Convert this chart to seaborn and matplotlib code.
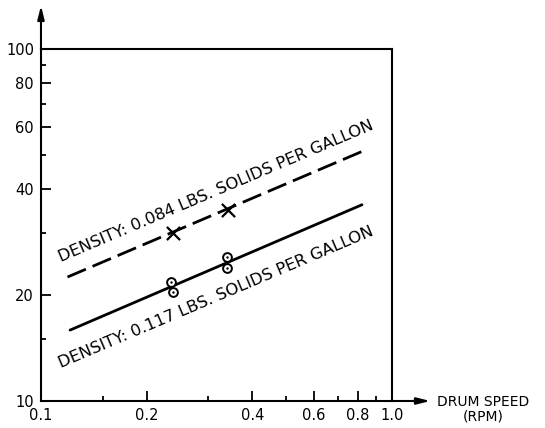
import numpy as np
import pandas as pd
import seaborn as sns
import matplotlib.pyplot as plt

# fitted lines (end points)
line_speed_084 = [0.119, 0.838]
line_val_084 = [22.5, 51.6]
line_speed_117 = [0.121, 0.821]
line_val_117 = [15.9, 36.1]

# measured points
x_speed = [0.238, 0.341]
x_val = [30.0, 34.9]
o_speed = [0.235, 0.238, 0.339, 0.339]
o_val = [21.8, 20.4, 25.6, 23.9]

xticks = [0.1, 0.2, 0.4, 0.6, 0.8, 1.0]
xticklabels = ['0.1', '0.2', '0.4', '0.6', '0.8', '1.0']
xminor = [0.15, 0.3, 0.5, 0.7, 0.9]
yticks = [10, 20, 40, 60, 80, 100]
yticklabels = ['10', '20', '40', '60', '80', '100']
yminor = [15, 30, 50, 70, 90]

sns.set_style('white')
plt.rcParams['font.family'] = ['DejaVu Sans']
plt.rcParams['text.color'] = 'black'
plt.rcParams['xtick.color'] = 'black'
plt.rcParams['ytick.color'] = 'black'

fig = plt.figure(figsize=(5.45, 4.28), dpi=100)
ax = fig.add_axes([0.0752, 0.0631, 0.6441, 0.8224])

d084 = pd.DataFrame({'speed': line_speed_084, 'val': line_val_084})
d117 = pd.DataFrame({'speed': line_speed_117, 'val': line_val_117})
sns.lineplot(data=d084, x='speed', y='val', ax=ax, color='black', lw=2.0,
             linestyle=(0, (7.2, 2.6)))
sns.lineplot(data=d117, x='speed', y='val', ax=ax, color='black', lw=2.0)

dx = pd.DataFrame({'speed': x_speed, 'val': x_val})
do = pd.DataFrame({'speed': o_speed, 'val': o_val})
sns.scatterplot(data=dx, x='speed', y='val', ax=ax, marker='x', s=90,
                color='black', linewidth=1.6, zorder=5)
sns.scatterplot(data=do, x='speed', y='val', ax=ax, marker='o', s=40,
                facecolor='white', edgecolor='black', linewidth=1.4, zorder=5)
sns.scatterplot(data=do, x='speed', y='val', ax=ax, marker='o', s=3,
                color='black', linewidth=0, zorder=6)

ax.set_xscale('log')
ax.set_yscale('log')
ax.set_xlim(0.1, 1.0)
ax.set_ylim(10, 100)
ax.set_xticks(xticks)
ax.set_xticklabels(xticklabels)
ax.set_xticks(xminor, minor=True)
ax.set_xticklabels([], minor=True)
ax.set_yticks(yticks)
ax.set_yticklabels(yticklabels)
ax.set_yticks(yminor, minor=True)
ax.set_yticklabels([], minor=True)
ax.tick_params(which='both', bottom=True, left=True, top=False, right=False)
ax.tick_params(which='major', direction='in', length=7, width=1.3,
               labelsize=10.5, color='black', labelcolor='black', pad=5)
ax.tick_params(which='minor', direction='in', length=3.5, width=1.3,
               color='black')
ax.set_xlabel('')
ax.set_ylabel('')
for s in ax.spines.values():
    s.set_linewidth(1.5)
    s.set_color('black')

# axis arrows
ax.annotate('', xy=(0, 1.131), xytext=(0, 0.99), xycoords='axes fraction',
            arrowprops=dict(arrowstyle='-|>,head_length=0.8,head_width=0.2',
                            color='black', lw=1.5), annotation_clip=False)
ax.annotate('', xy=(1.117, 0), xytext=(0.99, 0), xycoords='axes fraction',
            arrowprops=dict(arrowstyle='-|>,head_length=0.8,head_width=0.2',
                            color='black', lw=1.5), annotation_clip=False)
ax.text(1.127, 0.018, 'DRUM SPEED\n(RPM)', transform=ax.transAxes,
        ha='left', va='top', fontsize=10, multialignment='center',
        linespacing=1.1)

ax.text(0.315, 39.3, 'DENSITY: 0.084 LBS. SOLIDS PER GALLON', rotation=23,
        rotation_mode='anchor', ha='center', va='center', fontsize=11.8)
ax.text(0.316, 19.75, 'DENSITY: 0.117 LBS. SOLIDS PER GALLON', rotation=23,
        rotation_mode='anchor', ha='center', va='center', fontsize=11.8)

fig.savefig('out.png', dpi=100)
